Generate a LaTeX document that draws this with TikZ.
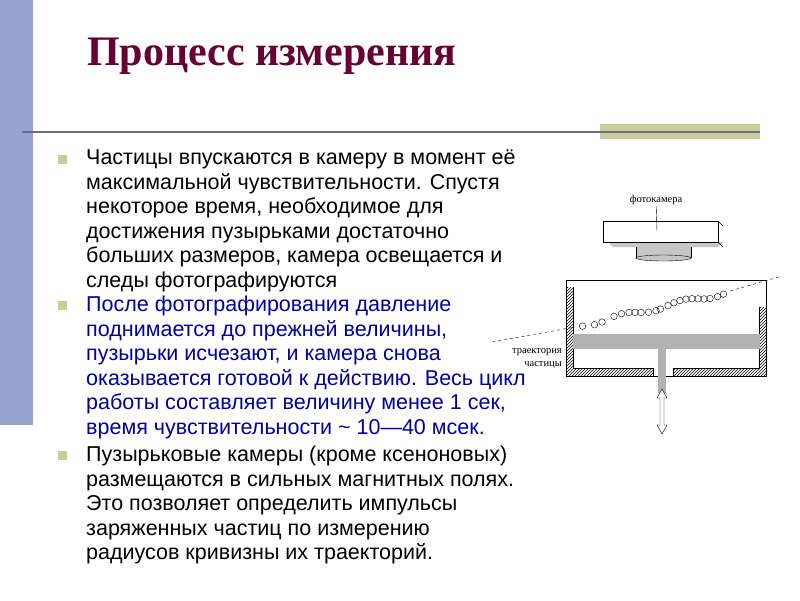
\documentclass[tikz,border=0pt]{standalone}
\usepackage{fontspec}
\setmainfont{Liberation Sans}
\newfontfamily\titlefont{Liberation Serif}
\usetikzlibrary{patterns,arrows.meta}
\definecolor{barblue}{HTML}{97A3CF}
\definecolor{olive}{HTML}{CCCC99}
\definecolor{rulegray}{HTML}{6B6B8F}
\definecolor{titlered}{HTML}{660033}
\definecolor{navy}{HTML}{000099}
\tikzset{
    para/.style={anchor=north west, align=left, inner sep=0pt,
        font=\fontsize{21.5}{24.5}\selectfont},
    bullet/.style={fill=olive, minimum size=9pt, inner sep=0pt},
    tiny/.style={font=\titlefont\fontsize{10.5}{13}\selectfont, inner sep=1pt},
    wall/.style={pattern=north east lines, draw=none}
}
\begin{document}
\begin{tikzpicture}[x=1pt,y=-1pt]
    \useasboundingbox (0,0) rectangle (800,600);
    % slide frame
    \fill[barblue] (0,0) rectangle (33,425);
    \fill[olive] (600,124) rectangle (760,139);
    \draw[rulegray, line width=2pt] (22,132) -- (760,132);
    \node(titl) [anchor=west, text=titlered, inner sep=0pt,
        font=\titlefont\bfseries\fontsize{42}{46}\selectfont] at (87,56)
        {Процесс измерения};
    % text
    \node(b1) [bullet] at (62,159) {};
    \node(b2) [bullet] at (62,305) {};
    \node(b3) [bullet] at (62,455) {};
    \node(p1) [para] at (86,150) {Частицы впускаются в камеру в момент её\\
        максимальной чувствительности. Спустя\\
        некоторое время, необходимое для\\
        достижения пузырьками достаточно\\
        больших размеров, камера освещается и\\
        следы фотографируются};
    \node(p2) [para, text=navy] at (86,296) {После фотографирования давление\\
        поднимается до прежней величины,\\
        пузырьки исчезают, и камера снова\\
        оказывается готовой к действию. Весь цикл\\
        работы составляет величину менее 1 сек,\\
        время чувствительности \textasciitilde{} 10---40 мсек.};
    \node(p3) [para] at (86,446) {Пузырьковые камеры (кроме ксеноновых)\\
        размещаются в сильных магнитных полях.\\
        Это позволяет определить импульсы\\
        заряженных частиц по измерению\\
        радиусов кривизны их траекторий.};
    % camera
    \node(camlbl) [tiny] at (656,200) {фотокамера};
    \fill[gray!45] (608,242) -- (723,242) -- (718,247) -- (613,247) -- cycle;
    \fill[gray!45] (636,247) rectangle (691,258);
    \draw (636,247) -- (636,258) (691,247) -- (691,258);
    \draw[fill=gray!45] (663.5,258) ellipse (27.5pt and 3pt);
    \node(cam) [draw, fill=white, minimum width=115pt, minimum height=21pt,
        inner sep=0pt] at (660.5,231.5) {};
    \draw (718,221) -- (723,226) (718,242) -- (723,247);
    \draw (camlbl) -- (657,231);
    % chamber
    \draw (566,280) rectangle (766,376);
    \fill[wall] (566,287) rectangle (573,376);
    \fill[wall] (759,307) rectangle (766,376);
    \fill[wall] (573,368) rectangle (653,376);
    \fill[wall] (673,368) rectangle (759,376);
    \draw (573,287) -- (573,368) -- (653,368) -- (653,376);
    \draw (759,307) -- (759,368) -- (673,368) -- (673,376);
    \draw[fill=gray!60, draw=gray!60] (573,334) rectangle (759,348);
    \fill[gray!60] (658,348) rectangle (666,393);
    \draw[fill=white] (662,389) -- (667,398) -- (664,398) -- (664,425) -- (667,425)
        -- (662,434) -- (657,425) -- (660,425) -- (660,398) -- (657,398) -- cycle;
    % trajectory
    \draw[dashed] (492,342) -- (575,327);
    \draw[dashed] (730,291) -- (782,276);
    \foreach \t in {0.03,0.11,0.16,0.24,0.29,0.34,0.38,0.42,0.47,0.52,0.55,0.6,0.64,0.68,0.72,0.76,0.8,0.84,0.88,0.93,0.97}
        \draw ({578+150*\t},{326-34*\t+2.5*sin(900*\t)}) circle (3.3pt);
    \node(trj) [tiny, align=right, anchor=east] at (563,359) {траектория\\частицы};
\end{tikzpicture}
\end{document}
